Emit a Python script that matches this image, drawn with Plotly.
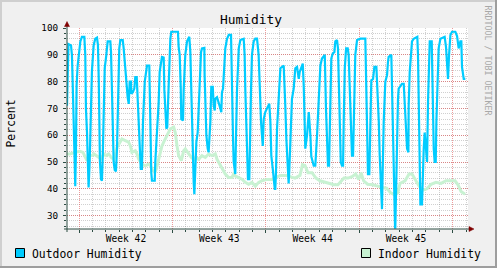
import plotly.graph_objects as go

# ---------------- data (day offsets from Monday of week 42, percent) ----------------
outdoor_name = "Outdoor Humidity"
indoor_name = "Indoor Humidity"
week_labels = ["Week 42", "Week 43", "Week 44", "Week 45"]
week_mid_days = [3.5, 10.5, 17.5, 24.5]
y_ticks = [30, 40, 50, 60, 70, 80, 90, 100]

outdoor_points = [
    (-0.92, 71), (-0.81, 94), (-0.62, 93.5), (-0.55, 90), (-0.47, 75), (-0.40, 63.6), (-0.30, 41),
    (-0.25, 53.6), (-0.20, 78.6), (-0.12, 86), (-0.05, 90), (0.08, 95), (0.20, 96.7), (0.38, 96.7),
    (0.45, 90), (0.50, 70), (0.58, 61), (0.65, 52), (0.70, 40.5), (0.78, 50), (0.88, 70), (0.95, 84),
    (1.08, 93.6), (1.20, 96), (1.33, 96.4), (1.40, 93.6), (1.46, 81), (1.50, 62), (1.55, 50),
    (1.63, 43.6), (1.70, 43), (1.76, 52), (1.83, 71), (1.91, 85), (2.03, 90), (2.13, 95), (2.33, 95),
    (2.38, 91), (2.45, 77), (2.51, 65), (2.58, 50), (2.66, 47), (2.75, 46.5), (2.83, 55), (2.90, 77),
    (3.00, 92.4), (3.08, 95.5), (3.26, 95.5), (3.33, 92.4), (3.45, 83.6), (3.53, 78), (3.63, 74),
    (3.71, 71.7), (3.78, 80), (3.88, 80), (3.90, 75.5), (4.01, 76), (4.13, 77.4), (4.20, 81.7),
    (4.31, 81.7), (4.35, 77), (4.46, 65), (4.53, 55), (4.61, 47.4), (4.70, 47.4), (4.78, 65),
    (4.91, 80), (4.98, 83), (5.08, 86), (5.25, 86), (5.28, 77), (5.33, 58.6), (5.40, 46), (5.45, 43),
    (5.66, 43), (5.70, 50), (5.83, 61), (5.95, 72), (6.03, 83.6), (6.13, 88), (6.20, 89.2), (6.33, 89),
    (6.38, 77), (6.53, 62.4), (6.60, 63), (6.65, 71), (6.75, 86), (6.83, 96), (6.90, 98.6), (7.40, 98.6),
    (7.45, 93), (7.53, 90), (7.61, 77.4), (7.65, 66), (7.78, 65.5), (7.83, 77), (7.95, 90), (8.08, 95),
    (8.25, 96.7), (8.33, 91), (8.40, 77), (8.45, 63.6), (8.50, 50), (8.58, 42.4), (8.63, 38),
    (8.70, 47.4), (8.78, 57.4), (8.88, 61), (8.95, 68.6), (9.03, 82), (9.13, 91), (9.20, 92.4),
    (9.38, 92.6), (9.40, 82.4), (9.45, 68.6), (9.53, 60), (9.63, 55), (9.70, 53.6), (9.83, 65),
    (9.90, 78), (10.01, 78), (10.08, 71), (10.16, 69.2), (10.20, 73.6), (10.33, 74.2), (10.46, 72.4),
    (10.58, 70), (10.65, 68.6), (10.70, 76), (10.78, 77.4), (10.83, 83.6), (10.95, 92.4), (11.08, 96),
    (11.21, 97.4), (11.38, 97.4), (11.40, 90), (11.45, 77), (11.53, 58.6), (11.58, 50), (11.66, 45.5),
    (11.70, 45.5), (11.75, 58.6), (11.83, 77), (11.96, 92.4), (12.08, 95.5), (12.33, 96), (12.40, 90),
    (12.45, 77), (12.53, 62.4), (12.58, 51), (12.65, 43.6), (12.75, 43.6), (12.78, 55), (12.88, 77),
    (12.95, 90), (13.08, 95), (13.20, 96), (13.33, 96), (13.45, 90), (13.53, 77), (13.63, 65),
    (13.70, 60), (13.76, 56), (13.83, 66), (13.95, 68.6), (14.08, 70), (14.21, 71.7), (14.25, 71.7),
    (14.33, 65), (14.40, 52.4), (14.51, 47.4), (14.58, 42.4), (14.66, 40), (14.70, 40), (14.75, 46),
    (14.83, 62.4), (14.96, 77.4), (15.08, 85), (15.33, 86), (15.38, 81), (15.45, 71), (15.53, 58.6),
    (15.60, 48.6), (15.65, 42), (15.70, 42), (15.75, 47), (15.83, 61), (15.95, 73.6), (16.08, 77.4),
    (16.13, 82.4), (16.20, 85), (16.33, 85.5), (16.46, 81), (16.53, 83.6), (16.65, 85.5), (16.76, 86.7),
    (16.83, 78.6), (16.88, 71), (16.95, 55), (17.08, 60), (17.21, 68.6), (17.33, 60), (17.40, 52),
    (17.58, 48.6), (17.70, 48.6), (17.83, 60), (17.96, 77.4), (18.08, 86), (18.20, 88.6), (18.41, 90),
    (18.50, 70), (18.58, 55), (18.65, 48.6), (18.73, 48.6), (18.83, 71), (18.90, 88.6), (19.01, 90.5),
    (19.13, 91), (19.20, 95), (19.33, 95.5), (19.40, 92.4), (19.45, 80), (19.53, 62), (19.61, 50),
    (19.70, 48.6), (19.78, 48.6), (19.83, 65), (19.91, 85), (20.01, 92.4), (20.13, 92.4), (20.20, 90),
    (20.28, 77), (20.36, 60), (20.45, 52.4), (20.53, 52.4), (20.60, 70), (20.70, 90), (20.83, 95.5),
    (21.08, 96), (21.45, 96), (21.50, 83.6), (21.55, 65), (21.60, 50), (21.65, 45.5), (21.75, 45.5),
    (21.80, 62.4), (21.85, 77.4), (21.90, 80.5), (22.03, 81), (22.13, 85.5), (22.28, 85.5), (22.33, 81),
    (22.38, 77), (22.46, 65), (22.53, 52.4), (22.61, 41), (22.65, 32.4), (22.70, 32.4), (22.75, 46),
    (22.83, 65), (22.95, 80), (23.08, 82.4), (23.15, 87.4), (23.20, 89.2), (23.40, 90), (23.45, 77.4),
    (23.50, 58.6), (23.58, 40), (23.63, 31), (23.68, 25.5), (23.70, 25.5), (23.75, 40), (23.83, 58.6),
    (23.90, 73.6), (23.95, 77.4), (24.08, 78.6), (24.20, 79.2), (24.33, 79.2), (24.40, 73.6),
    (24.45, 66), (24.53, 61), (24.58, 55), (24.68, 53.6), (24.70, 71), (24.78, 83.6), (24.88, 92.4),
    (24.95, 95), (25.08, 96), (25.35, 96.7), (25.40, 90), (25.45, 77), (25.50, 58.6), (25.53, 47.4),
    (25.58, 34.2), (25.70, 34.2), (25.75, 47.4), (25.83, 55), (25.90, 61), (26.00, 55), (26.08, 50),
    (26.15, 72), (26.28, 95), (26.43, 95), (26.50, 72), (26.58, 55), (26.65, 50), (26.73, 50),
    (26.78, 65), (26.85, 80), (26.95, 92.4), (27.08, 96), (27.40, 96.7), (27.50, 93), (27.58, 85.5),
    (27.65, 81), (27.73, 90), (27.83, 97.4), (27.95, 98.6), (28.20, 98.6), (28.33, 97), (28.45, 92.4),
    (28.58, 95), (28.65, 95), (28.70, 85.5), (28.83, 81), (28.95, 81),
]

indoor_points = [
    (-0.92, 53), (-0.70, 53), (-0.32, 53.6), (0.05, 54), (0.28, 53.6), (0.43, 51.7), (0.58, 50.5),
    (0.73, 52.4), (0.95, 52.4), (1.10, 53), (1.33, 52.4), (1.48, 51.7), (1.60, 51), (1.78, 52.4),
    (1.85, 53), (2.00, 52.4), (2.20, 53), (2.40, 51.7), (2.58, 51), (2.70, 53), (2.83, 55.5),
    (2.98, 56.7), (3.20, 58.6), (3.45, 58), (3.70, 57.4), (3.83, 56), (3.95, 53.6), (4.20, 54.2),
    (4.33, 53), (4.46, 51), (4.70, 49.2), (4.95, 48.6), (5.20, 49.2), (5.33, 48.6), (5.45, 47.4),
    (5.66, 46.1), (5.78, 47.4), (5.95, 51), (6.08, 53.6), (6.20, 56), (6.33, 57.4), (6.50, 59.2),
    (6.58, 60), (6.83, 62.4), (7.08, 63), (7.20, 61), (7.33, 56), (7.45, 52.4), (7.65, 50.5),
    (7.83, 54.2), (7.95, 54.9), (8.20, 53), (8.40, 51.7), (8.58, 51), (8.70, 51.7), (8.95, 51),
    (9.20, 52.4), (9.45, 51.7), (9.70, 53), (9.95, 52.4), (10.20, 53), (10.33, 51), (10.46, 49.9),
    (10.70, 47.4), (10.95, 45.5), (11.20, 44.2), (11.45, 44.2), (11.58, 45.5), (11.70, 44.8),
    (11.95, 44.2), (12.20, 43.6), (12.45, 42.4), (12.70, 41.7), (12.95, 42.4), (13.20, 41),
    (13.45, 42.4), (13.70, 43), (14.08, 43.5), (14.45, 43.5), (14.83, 44.5), (15.13, 45), (15.50, 45),
    (15.80, 44.5), (16.18, 44), (16.55, 45), (16.74, 49), (16.93, 48.6), (17.15, 46), (17.45, 46),
    (17.75, 44), (18.05, 43), (18.43, 42.5), (18.80, 42), (19.10, 41.5), (19.40, 41.5), (19.63, 43),
    (19.85, 44), (20.15, 44), (20.45, 44.5), (20.73, 45.5), (20.95, 43.5), (21.13, 46), (21.32, 43),
    (21.62, 41.7), (22.00, 41.5), (22.38, 41), (22.68, 40.5), (23.05, 40.2), (23.35, 38.5),
    (23.65, 37.8), (23.88, 38.5), (24.05, 42), (24.43, 43), (24.73, 45.5), (24.95, 45.5), (25.25, 43),
    (25.48, 41), (25.78, 39.5), (26.08, 40), (26.38, 41.7), (26.75, 42.4), (27.13, 42), (27.50, 43),
    (27.88, 43), (28.18, 43), (28.40, 41.5), (28.63, 39), (28.93, 38),
]

outdoor_days = [p[0] for p in outdoor_points]
outdoor_pct = [p[1] for p in outdoor_points]
indoor_days = [p[0] for p in indoor_points]
indoor_pct = [p[1] for p in indoor_points]

# ---------------- style ----------------
W, H = 497, 268
L, R, T, B = 67, 468, 28, 229          # plot area in pixels
X_RANGE = [-0.92, 29.15]
Y_RANGE = [25, 100]
FONT = "DejaVu Sans Mono"
OUT_COLOR = "#00CCFF"
IN_COLOR = "#C8F2D2"
BACK = "#F0F0F0"
AXIS = "#2C4D43"
ARROW = "#7F0000"
MGRID = "rgba(222,72,72,0.55)"
GRID = "rgba(143,143,143,0.42)"


def px(x):
    return (x - L) / (R - L)


def py(y):
    return (B - y) / (B - T)


fig = go.Figure()
fig.add_trace(go.Scatter(x=indoor_days, y=indoor_pct, mode="lines",
                         line=dict(color=IN_COLOR, width=3), name=indoor_name,
                         showlegend=False, hoverinfo="skip"))
fig.add_trace(go.Scatter(x=outdoor_days, y=outdoor_pct, mode="lines",
                         line=dict(color=OUT_COLOR, width=2.2), name=outdoor_name,
                         showlegend=False, hoverinfo="skip"))
# carrier trace for the label axis
fig.add_trace(go.Scatter(x=[X_RANGE[0]], y=[None], xaxis="x2", showlegend=False,
                         hoverinfo="skip", mode="lines"))

shapes = []
# axes lines
shapes.append(dict(type="line", xref="paper", yref="paper", x0=px(67), x1=px(67),
                   y0=py(232), y1=py(24), line=dict(color=AXIS, width=1)))
shapes.append(dict(type="line", xref="paper", yref="paper", x0=px(64), x1=px(471),
                   y0=py(229), y1=py(229), line=dict(color=AXIS, width=1)))
# arrows
shapes.append(dict(type="path", xref="paper", yref="paper",
                   path=f"M {px(64.5)} {py(26.5)} L {px(69.5)} {py(26.5)} L {px(67)} {py(21.5)} Z",
                   fillcolor=ARROW, line=dict(color=ARROW, width=0.5)))
shapes.append(dict(type="path", xref="paper", yref="paper",
                   path=f"M {px(469)} {py(226.5)} L {px(469)} {py(231.5)} L {px(474)} {py(229)} Z",
                   fillcolor=ARROW, line=dict(color=ARROW, width=0.5)))
# frame
shapes.append(dict(type="rect", xref="paper", yref="paper", x0=px(0), x1=px(497), y0=py(0), y1=py(2),
                   fillcolor="#CFCFCF", line=dict(width=0), layer="below"))
shapes.append(dict(type="rect", xref="paper", yref="paper", x0=px(0), x1=px(2), y0=py(0), y1=py(268),
                   fillcolor="#CFCFCF", line=dict(width=0), layer="below"))
shapes.append(dict(type="rect", xref="paper", yref="paper", x0=px(0), x1=px(497), y0=py(266), y1=py(268),
                   fillcolor="#9E9E9E", line=dict(width=0), layer="below"))
shapes.append(dict(type="rect", xref="paper", yref="paper", x0=px(495), x1=px(497), y0=py(0), y1=py(268),
                   fillcolor="#9E9E9E", line=dict(width=0), layer="below"))
# legend boxes
shapes.append(dict(type="rect", xref="paper", yref="paper", x0=px(15.5), x1=px(24.5),
                   y0=py(257.5), y1=py(248.5), fillcolor=OUT_COLOR, line=dict(color="#000000", width=1)))
shapes.append(dict(type="rect", xref="paper", yref="paper", x0=px(361.5), x1=px(370.5),
                   y0=py(257.5), y1=py(248.5), fillcolor=IN_COLOR, line=dict(color="#000000", width=1)))

annotations = [
    dict(text=outdoor_name, xref="paper", yref="paper", x=px(30), y=py(253.5), xanchor="left",
         yanchor="middle", showarrow=False, font=dict(family=FONT, size=11.4, color="#000")),
    dict(text=indoor_name, xref="paper", yref="paper", x=px(376), y=py(253.5), xanchor="left",
         yanchor="middle", showarrow=False, font=dict(family=FONT, size=11.4, color="#000")),
    dict(text="Percent", xref="paper", yref="paper", x=px(10.5), y=py(124), xanchor="center",
         yanchor="middle", textangle=-90, showarrow=False, font=dict(family=FONT, size=11.4, color="#000")),
    dict(text="RRDTOOL / TOBI OETIKER", xref="paper", yref="paper", x=px(487.5), y=py(60),
         xanchor="center", yanchor="middle", textangle=90, showarrow=False,
         font=dict(family=FONT, size=8.3, color="#A8A8A8")),
]

fig.update_layout(
    width=W, height=H,
    margin=dict(l=L, r=W - R, t=T, b=H - B, pad=0),
    paper_bgcolor=BACK, plot_bgcolor="#FFFFFF",
    font=dict(family=FONT, color="#000000"),
    title=dict(text="Humidity", font=dict(family=FONT, size=12.9, color="#000"),
               xref="container", yref="container", x=251 / W, y=1 - 19 / H,
               xanchor="center", yanchor="middle"),
    xaxis=dict(range=X_RANGE, tickmode="linear", tick0=0, dtick=7, showticklabels=False,
               showgrid=True, gridcolor=MGRID, griddash="1px,1px", gridwidth=1,
               ticks="outside", ticklen=3, tickcolor=AXIS, showline=False, zeroline=False,
               minor=dict(tickmode="linear", tick0=0, dtick=1, showgrid=True, gridcolor=GRID,
                          griddash="1px,1px", gridwidth=1, ticks="outside", ticklen=2, tickcolor=AXIS)),
    xaxis2=dict(range=X_RANGE, overlaying="x", anchor="y", side="bottom", tickmode="array",
                tickvals=week_mid_days, ticktext=week_labels, showgrid=False, ticks="",
                showline=False, zeroline=False, ticklabelstandoff=2,
                tickfont=dict(family=FONT, size=9.6, color="#000")),
    yaxis=dict(range=Y_RANGE, tickmode="array", tickvals=y_ticks, showgrid=True, gridcolor=MGRID,
               griddash="1px,1px", gridwidth=1, ticks="outside", ticklen=3, tickcolor=AXIS,
               showline=False, zeroline=False, ticklabelstandoff=3,
               tickfont=dict(family=FONT, size=9.3, color="#000"),
               minor=dict(tickmode="linear", tick0=0, dtick=2, showgrid=True, gridcolor=GRID,
                          griddash="1px,1px", gridwidth=1, ticks="outside", ticklen=2, tickcolor=AXIS)),
    shapes=shapes,
    annotations=annotations,
    showlegend=False,
)

fig.write_html("out.html")
